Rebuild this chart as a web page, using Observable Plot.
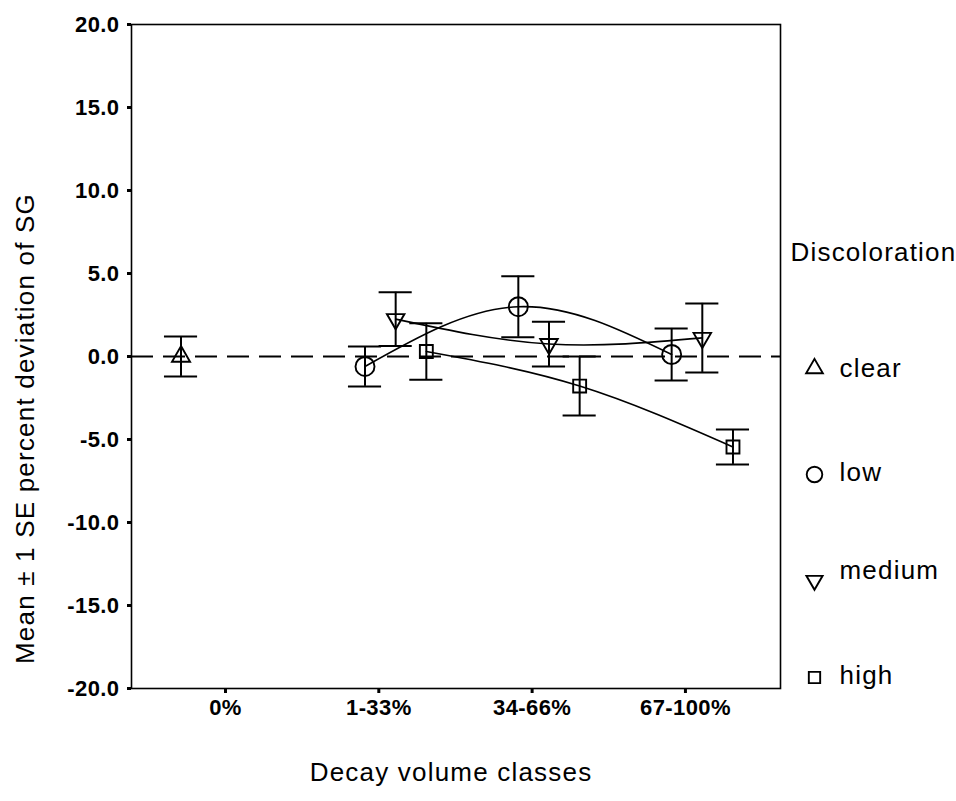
<!DOCTYPE html>
<html>
<head>
<meta charset="utf-8">
<script src="https://cdn.jsdelivr.net/npm/d3@7"></script>
<script src="https://cdn.jsdelivr.net/npm/@observablehq/plot@0.6"></script>
<style>
  html, body { margin: 0; padding: 0; background: white; }
  svg text { font-family: "Liberation Sans", Arial, sans-serif; }
  g[aria-label="text"] text { letter-spacing: 1.2px; }
  g[aria-label$="tick label"] text { letter-spacing: 0.4px; }
</style>
</head>
<body>
<div id="chart"></div>
<script>
// ---- data ----
const categories = ["0%", "1-33%", "34-66%", "67-100%"];
const groups = ["clear", "low", "medium", "high"];
const yTicks = [-20, -15, -10, -5, 0, 5, 10, 15, 20];

const clearCats = ["0%"];
const clearMean = [0.0];
const clearSE   = [1.2];

const decayCats  = ["1-33%", "34-66%", "67-100%"];
const lowMean    = [-0.6, 3.0, 0.12];
const lowSE      = [1.2, 1.84, 1.57];
const mediumMean = [2.25, 0.75, 1.12];
const mediumSE   = [1.62, 1.35, 2.08];
const highMean   = [0.3, -1.78, -5.45];
const highSE     = [1.7, 1.78, 1.05];

// ---- build table ----
const series = [
  {group: "clear",  cats: clearCats, mean: clearMean,  se: clearSE},
  {group: "low",    cats: decayCats, mean: lowMean,    se: lowSE},
  {group: "medium", cats: decayCats, mean: mediumMean, se: mediumSE},
  {group: "high",   cats: decayCats, mean: highMean,   se: highSE}
];
const dodge = 0.2, shift = 0.01, capHalf = 0.108;
const rows = [];
for (const s of series) {
  const gi = groups.indexOf(s.group);
  s.cats.forEach((c, i) => {
    const x = categories.indexOf(c) + (gi - 1.5) * dodge + shift;
    rows.push({group: s.group, cat: c, x, mean: s.mean[i], lo: s.mean[i] - s.se[i], hi: s.mean[i] + s.se[i]});
  });
}

// symbols
const sqrt3 = Math.sqrt(3);
const triangleDown = {
  draw(context, size) {
    const y = -Math.sqrt(size / (sqrt3 * 3));
    context.moveTo(0, -y * 2);
    context.lineTo(-sqrt3 * y, y);
    context.lineTo(sqrt3 * y, y);
    context.closePath();
  }
};
const symbolOf = {clear: "triangle", low: "circle", medium: triangleDown, high: "square"};
const radiusOf = {clear: 6.7, low: 9.5, medium: 6.5, high: 7.3};

const lineRows = rows.filter(d => d.group !== "clear");

const marks = [
  Plot.frame({stroke: "black", strokeWidth: 1.6}),
  Plot.ruleY([0], {stroke: "black", strokeWidth: 2, strokeDasharray: "22,10"}),
  Plot.axisY({ticks: yTicks, tickFormat: d => d.toFixed(1), tickSize: 4, tickPadding: 8, strokeWidth: 3, fontSize: 22, fontWeight: "bold", label: null}),
  Plot.axisX({ticks: [0, 1, 2, 3], tickFormat: i => categories[i], tickSize: 5, tickPadding: 6, strokeWidth: 3, fontSize: 22, fontWeight: "bold", label: null}),
  Plot.line(lineRows, {x: "x", y: "mean", z: "group", curve: "natural", stroke: "black", strokeWidth: 1.6}),
  Plot.ruleX(rows, {x: "x", y1: "lo", y2: "hi", stroke: "black", strokeWidth: 2}),
  Plot.ruleY(rows, {y: "hi", x1: d => d.x - capHalf, x2: d => d.x + capHalf, stroke: "black", strokeWidth: 2}),
  Plot.ruleY(rows, {y: "lo", x1: d => d.x - capHalf, x2: d => d.x + capHalf, stroke: "black", strokeWidth: 2})
];
for (const g of groups) {
  marks.push(Plot.dot(rows.filter(d => d.group === g), {
    x: "x", y: "mean", symbol: symbolOf[g], r: radiusOf[g],
    fill: "none", stroke: "black", strokeWidth: 1.9
  }));
}

// axis titles
marks.push(Plot.text(["Mean \u00b1 1 SE percent deviation of SG"], {
  frameAnchor: "left", textAnchor: "middle", lineAnchor: "middle", rotate: -90, dx: -106, dy: 72, fontSize: 26, fill: "black"
}));
marks.push(Plot.text(["Decay volume classes"], {
  frameAnchor: "bottom", textAnchor: "middle", lineAnchor: "middle", dx: -5, dy: 84, fontSize: 26, fill: "black"
}));

// legend (layout in the right margin)
marks.push(Plot.text(["Discoloration"], {
  frameAnchor: "top-right", dx: 10, dy: 228, textAnchor: "start", lineAnchor: "middle", fontSize: 26, fill: "black"
}));
const legendDy = [344, 448, 546, 651];
const legendSymDy = [0, 2, 10, 2];
const legendR = {clear: 6.2, low: 7.8, medium: 6.0, high: 6.4};
groups.forEach((g, i) => {
  marks.push(Plot.dot([g], {
    frameAnchor: "top-right", dx: 34, dy: legendDy[i] + legendSymDy[i],
    symbol: symbolOf[g], r: legendR[g], fill: "none", stroke: "black", strokeWidth: 1.9
  }));
  marks.push(Plot.text([g], {
    frameAnchor: "top-right", dx: 59, dy: legendDy[i], textAnchor: "start", lineAnchor: "middle", fontSize: 26, fill: "black"
  }));
});

const chart = Plot.plot({
  width: 956,
  height: 801,
  marginLeft: 131,
  marginRight: 176,
  marginTop: 24,
  marginBottom: 113,
  x: {type: "linear", domain: [-0.613, 3.62]},
  y: {domain: [-20, 20]},
  style: {background: "white", color: "black", fontFamily: "'Liberation Sans', Arial, sans-serif"},
  marks
});
document.getElementById("chart").appendChild(chart);
</script>
</body>
</html>
